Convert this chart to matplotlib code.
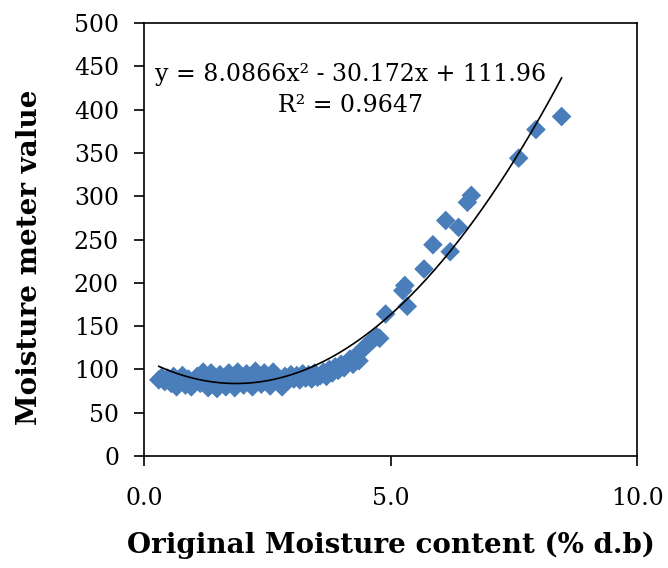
import numpy as np
import matplotlib.pyplot as plt

# Original moisture content (% d.b) vs moisture meter reading
moisture_db = [
    0.30, 0.36, 0.42, 0.48, 0.55, 0.60, 0.66, 0.72, 0.78, 0.84,
    0.90, 0.96, 1.02, 1.08, 1.14, 1.20, 1.26, 1.30, 1.36, 1.42,
    1.48, 1.54, 1.60, 1.66, 1.72, 1.78, 1.84, 1.90, 1.96, 2.02,
    2.08, 2.14, 2.20, 2.26, 2.32, 2.38, 2.44, 2.50, 2.56, 2.62,
    2.68, 2.74, 2.80, 2.86, 2.92, 2.98, 3.04, 3.10, 3.16, 3.22,
    3.28, 3.34, 3.40, 3.46, 3.52, 3.58, 3.64, 3.70, 3.76, 3.82,
    3.88, 3.94, 4.00, 4.06, 4.12, 4.18, 4.24, 4.30, 4.36, 4.42,
    4.48, 4.56, 4.64, 4.72, 4.78,
    4.90, 5.25, 5.29, 5.34, 5.68, 5.86, 6.12, 6.21, 6.38, 6.56,
    6.64, 7.60, 7.95, 8.47,
]
meter_value = [
    88, 91, 86, 90, 84, 92, 80, 88, 93, 82,
    89, 80, 86, 92, 84, 97, 90, 79, 96, 85,
    78, 94, 88, 80, 96, 86, 79, 97, 90, 82,
    95, 87, 80, 98, 90, 83, 96, 88, 81, 97,
    90, 84, 80, 92, 87, 94, 89, 93, 88, 95,
    90, 94, 89, 96, 91, 93, 97, 92, 100, 96,
    103, 99, 106, 102, 108, 112, 106, 116, 110, 122,
    126, 130, 134, 138, 136,
    164, 191, 197, 173, 216, 244, 272, 236, 264, 293,
    301, 344, 377, 392,
]

# polynomial trendline coefficients (x^2, x, const)
trend_coef = [8.0866, -30.172, 111.96]
r_squared = 0.9647

x_ticks = [0.0, 5.0, 10.0]
y_ticks = list(range(0, 501, 50))

fig = plt.figure(figsize=(6.68, 5.68), dpi=100)
ax = fig.add_axes([0.2156, 0.197, 0.738, 0.7625])

ax.scatter(moisture_db, meter_value, marker='D', s=100, color='#4A7EBB',
           edgecolors='none', zorder=2)

xs = np.linspace(min(moisture_db), max(moisture_db), 200)
ax.plot(xs, np.polyval(trend_coef, xs), color='black', lw=1.2, zorder=3)

ax.text(4.18, 441, 'y = 8.0866x² - 30.172x + 111.96', ha='center', va='center',
        fontsize=17, family='DejaVu Serif')
ax.text(4.18, 405, f'R² = {r_squared}', ha='center', va='center',
        fontsize=17, family='DejaVu Serif')

ax.set_xlim(0, 10)
ax.set_ylim(0, 500)
ax.set_xticks(x_ticks)
ax.set_xticklabels([f'{v:.1f}' for v in x_ticks])
ax.set_yticks(y_ticks)

for side in ax.spines:
    ax.spines[side].set_linewidth(1.2)

ax.tick_params(axis='both', direction='out', length=7, width=1.2,
               labelsize=17, labelfontfamily='DejaVu Serif')
ax.tick_params(axis='x', pad=15)
ax.tick_params(axis='y', pad=11)

ax.set_xlabel('Original Moisture content (% d.b)', fontsize=20,
              fontweight='bold', family='DejaVu Serif')
ax.set_ylabel('Moisture meter value', fontsize=20,
              fontweight='bold', family='DejaVu Serif')
ax.xaxis.set_label_coords(0.5, -0.175)
ax.yaxis.set_label_coords(-0.205, 0.46)

fig.savefig('out.png', dpi=100)
